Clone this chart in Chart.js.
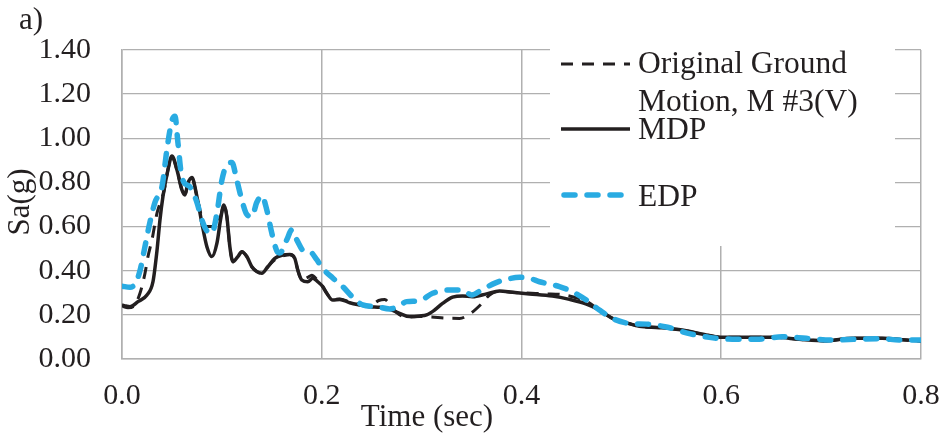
<!DOCTYPE html>
<html>
<head>
<meta charset="utf-8">
<script src="https://cdn.jsdelivr.net/npm/chart.js@4.4.1/dist/chart.umd.min.js"></script>
<style>
  html, body { margin: 0; padding: 0; background: #fff; }
  #wrap { width: 946px; height: 440px; }
</style>
</head>
<body>
<div id="wrap"><canvas id="saChart" width="946" height="440"></canvas></div>
<script>
/* =========================
   DATA
========================= */

// Original ground motion, M #3(V)
const origTime = [0, 0.006, 0.012, 0.018, 0.023, 0.026, 0.030, 0.035, 0.038, 0.042,
  0.046, 0.050, 0.055, 0.060, 0.063, 0.066, 0.070, 0.075, 0.080, 0.084,
  0.090, 0.095, 0.099, 0.102, 0.105, 0.108, 0.111, 0.116, 0.120, 0.125,
  0.130, 0.135, 0.140, 0.146, 0.153, 0.160, 0.168, 0.173, 0.176, 0.180,
  0.186, 0.190, 0.196, 0.201, 0.205, 0.211, 0.218, 0.228, 0.238, 0.248,
  0.257, 0.263, 0.268, 0.275, 0.285, 0.298, 0.310, 0.325, 0.338, 0.350,
  0.360, 0.368, 0.378, 0.391, 0.410, 0.425, 0.438, 0.453, 0.465, 0.478,
  0.491, 0.508, 0.518, 0.538, 0.561, 0.585, 0.601, 0.628, 0.655, 0.678,
  0.705, 0.731, 0.761, 0.785, 0.800];
const origSa = [0.24, 0.232, 0.24, 0.298, 0.388, 0.464, 0.54, 0.66, 0.705, 0.76,
  0.857, 0.917, 0.857, 0.766, 0.743, 0.796, 0.819, 0.736, 0.64, 0.60,
  0.60, 0.61, 0.65, 0.698, 0.645, 0.509, 0.441, 0.464, 0.486, 0.464,
  0.418, 0.396, 0.388, 0.418, 0.45, 0.465, 0.474, 0.456, 0.403, 0.358,
  0.37, 0.38, 0.355, 0.328, 0.298, 0.27, 0.272, 0.258, 0.248, 0.24,
  0.265, 0.27, 0.25, 0.21, 0.19, 0.193, 0.19, 0.185, 0.184, 0.21,
  0.25, 0.29, 0.308, 0.302, 0.298, 0.295, 0.293, 0.28, 0.262, 0.222,
  0.184, 0.16, 0.148, 0.142, 0.131, 0.109, 0.098, 0.098, 0.098, 0.089,
  0.082, 0.094, 0.094, 0.086, 0.082];

// MDP
const mdpTime = [0, 0.004, 0.008, 0.016, 0.025, 0.031, 0.035, 0.038, 0.041, 0.046,
  0.050, 0.055, 0.060, 0.063, 0.066, 0.070, 0.075, 0.080, 0.085, 0.090,
  0.095, 0.099, 0.102, 0.105, 0.108, 0.111, 0.116, 0.120, 0.125, 0.130,
  0.135, 0.140, 0.146, 0.153, 0.161, 0.168, 0.173, 0.176, 0.180, 0.186,
  0.191, 0.196, 0.201, 0.205, 0.211, 0.218, 0.228, 0.238, 0.248, 0.258,
  0.268, 0.278, 0.288, 0.298, 0.305, 0.313, 0.321, 0.331, 0.341, 0.351,
  0.365, 0.378, 0.391, 0.408, 0.431, 0.448, 0.465, 0.478, 0.491, 0.508,
  0.518, 0.538, 0.561, 0.585, 0.601, 0.628, 0.655, 0.678, 0.705, 0.731,
  0.761, 0.785, 0.800];
const mdpSa = [0.245, 0.24, 0.237, 0.26, 0.29, 0.35, 0.49, 0.63, 0.736, 0.857,
  0.92, 0.857, 0.766, 0.743, 0.796, 0.822, 0.736, 0.615, 0.509, 0.464,
  0.524, 0.64, 0.698, 0.645, 0.509, 0.441, 0.464, 0.486, 0.464, 0.418,
  0.396, 0.388, 0.418, 0.456, 0.471, 0.474, 0.456, 0.403, 0.358, 0.35,
  0.366, 0.35, 0.328, 0.298, 0.267, 0.27, 0.255, 0.245, 0.237, 0.234,
  0.225, 0.207, 0.192, 0.195, 0.2, 0.222, 0.252, 0.28, 0.286, 0.282,
  0.295, 0.308, 0.302, 0.295, 0.285, 0.27, 0.249, 0.222, 0.184, 0.16,
  0.148, 0.142, 0.131, 0.109, 0.098, 0.098, 0.098, 0.089, 0.082, 0.094,
  0.094, 0.086, 0.082];

// EDP
const edpTime = [0, 0.008, 0.013, 0.018, 0.023, 0.028, 0.033, 0.040, 0.045, 0.050,
  0.053, 0.056, 0.059, 0.062, 0.068, 0.075, 0.080, 0.085, 0.090, 0.095,
  0.100, 0.105, 0.110, 0.115, 0.120, 0.125, 0.130, 0.135, 0.140, 0.145,
  0.150, 0.155, 0.158, 0.165, 0.170, 0.175, 0.182, 0.188, 0.195, 0.201,
  0.211, 0.221, 0.231, 0.241, 0.255, 0.268, 0.276, 0.285, 0.298, 0.311,
  0.330, 0.341, 0.350, 0.360, 0.374, 0.386, 0.398, 0.408, 0.418, 0.438,
  0.451, 0.465, 0.478, 0.491, 0.508, 0.525, 0.545, 0.568, 0.588, 0.611,
  0.638, 0.661, 0.685, 0.711, 0.738, 0.761, 0.778, 0.800];
const edpSa = [0.33, 0.325, 0.34, 0.40, 0.51, 0.62, 0.71, 0.78, 0.95, 1.08,
  1.10, 0.98, 0.85, 0.80, 0.78, 0.71, 0.63, 0.58, 0.57, 0.66,
  0.81, 0.88, 0.89, 0.81, 0.72, 0.655, 0.645, 0.71, 0.74, 0.675,
  0.57, 0.49, 0.48, 0.54, 0.585, 0.54, 0.49, 0.487, 0.45, 0.41,
  0.367, 0.328, 0.28, 0.245, 0.237, 0.227, 0.237, 0.26, 0.264, 0.298,
  0.313, 0.313, 0.29, 0.313, 0.345, 0.362, 0.37, 0.366, 0.35, 0.328,
  0.305, 0.267, 0.222, 0.184, 0.161, 0.158, 0.145, 0.115, 0.098, 0.09,
  0.09, 0.101, 0.094, 0.086, 0.09, 0.092, 0.086, 0.086];

// axis ticks
const xTickValues = [0, 0.2, 0.4, 0.6, 0.8];
const yTickValues = [0, 0.2, 0.4, 0.6, 0.8, 1.0, 1.2, 1.4];

const seriesNames = [["Original Ground", "Motion, M #3(V)"], ["MDP"], ["EDP"]];

/* =========================
   STYLE
========================= */

const INK = "#231F20";
const BLUE = "#29ABE2";
const GRID = "#B0B0B0";
const SERIF = "'Liberation Serif', 'Times New Roman', serif";

function toPoints(ts, vs) {
  return ts.map((t, i) => ({ x: t, y: vs[i] }));
}

/* =========================
   OVERLAY: titles + legend
========================= */

const overlay = {
  id: "overlay",
  afterDatasetsDraw(chart) {
    const ctx = chart.ctx;
    const ds = chart.data.datasets;
    ctx.save();

    // legend sits on a white box over the grid
    ctx.fillStyle = "#fff";
    ctx.fillRect(550, 44, 345, 202);

    const rows = [
      { set: ds[0], y: 64, x2: 630, textY: [73, 111] },
      { set: ds[1], y: 129, x2: 630, textY: [139] },
      { set: ds[2], y: 195, x2: 623, textY: [206] }
    ];
    rows.forEach((r, i) => {
      ctx.beginPath();
      ctx.strokeStyle = r.set.borderColor;
      ctx.lineWidth = r.set.borderWidth;
      ctx.lineCap = r.set.borderCapStyle || "butt";
      ctx.setLineDash(r.set.borderDash || []);
      ctx.moveTo(561 + (ctx.lineCap === "round" ? 3 : 0), r.y);
      ctx.lineTo(r.x2, r.y);
      ctx.stroke();

      ctx.setLineDash([]);
      ctx.fillStyle = INK;
      ctx.font = "31.5px " + SERIF;
      ctx.textAlign = "left";
      ctx.textBaseline = "alphabetic";
      seriesNames[i].forEach((line, k) => ctx.fillText(line, 638, r.textY[k]));
    });
    ctx.restore();
  },
  afterDraw(chart) {
    const ctx = chart.ctx;
    ctx.save();
    ctx.fillStyle = INK;
    ctx.font = "31px " + SERIF;
    ctx.textAlign = "center";
    ctx.textBaseline = "middle";
    ctx.fillText("Time (sec)", 427, 418);

    ctx.translate(21, 202);
    ctx.rotate(-Math.PI / 2);
    ctx.fillText("Sa(g)", 0, 0);
    ctx.restore();

    ctx.save();
    ctx.fillStyle = INK;
    ctx.font = "31px " + SERIF;
    ctx.textAlign = "left";
    ctx.textBaseline = "alphabetic";
    ctx.fillText("a)", 19, 29);
    ctx.restore();
  }
};

/* =========================
   CHART
========================= */

new Chart(document.getElementById("saChart"), {
  type: "line",
  data: {
    datasets: [
      {
        label: "Original Ground Motion, M #3(V)",
        data: toPoints(origTime, origSa),
        borderColor: INK,
        borderWidth: 3,
        borderDash: [12, 9],
        order: 2
      },
      {
        label: "MDP",
        data: toPoints(mdpTime, mdpSa),
        borderColor: INK,
        borderWidth: 3.5,
        order: 1
      },
      {
        label: "EDP",
        data: toPoints(edpTime, edpSa),
        borderColor: BLUE,
        borderWidth: 5.5,
        borderDash: [11, 12],
        borderCapStyle: "round",
        order: 0
      }
    ]
  },
  options: {
    responsive: false,
    devicePixelRatio: 1,
    animation: false,
    layout: { padding: { top: 50, right: 25, left: 0, bottom: 0 } },
    elements: {
      point: { radius: 0 },
      line: { cubicInterpolationMode: "monotone", fill: false }
    },
    plugins: {
      legend: { display: false },
      tooltip: { enabled: false }
    },
    scales: {
      x: {
        type: "linear",
        min: 0,
        max: 0.8,
        afterBuildTicks: s => { s.ticks = xTickValues.map(v => ({ value: v })); },
        afterFit: s => {
          s.height = 81;
          s.paddingLeft = 0;
          s.paddingRight = 0;
        },
        grid: { color: GRID, lineWidth: 1.5, drawTicks: false },
        border: { color: GRID, width: 1.5 },
        ticks: {
          padding: 19,
          color: INK,
          font: { family: SERIF, size: 30 },
          maxRotation: 0,
          callback: v => v.toFixed(1)
        }
      },
      y: {
        min: 0,
        max: 1.4,
        afterBuildTicks: s => { s.ticks = yTickValues.map(v => ({ value: v })); },
        afterFit: s => {
          s.width = 122;
          s.paddingTop = 0;
          s.paddingBottom = 0;
        },
        grid: { color: GRID, lineWidth: 1.3, drawTicks: false },
        border: { color: GRID, width: 1.5 },
        ticks: {
          padding: 31,
          color: INK,
          font: { family: SERIF, size: 30 },
          callback: v => v.toFixed(2)
        }
      }
    }
  },
  plugins: [overlay]
});
</script>
</body>
</html>
